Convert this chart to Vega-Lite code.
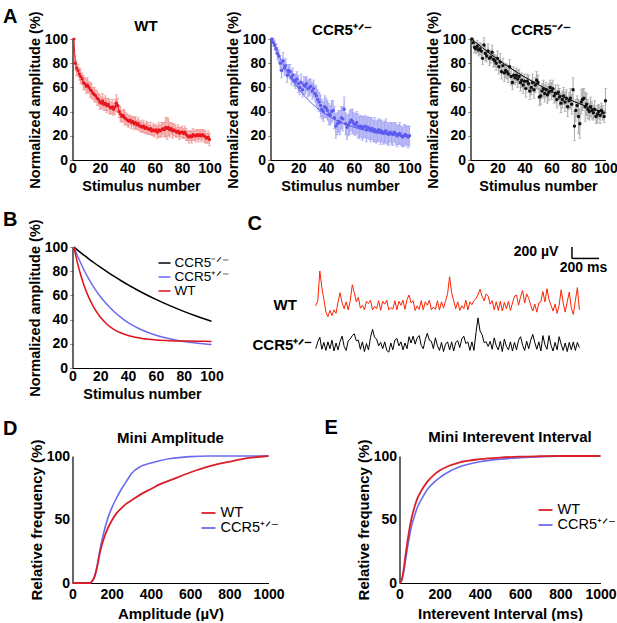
{
"$schema": "https://vega.github.io/schema/vega-lite/v6.json",
"padding": {"left": 2.5, "top": 6, "right": 0, "bottom": 0},
"background": "white",
"bounds": "full",
"spacing": 16,
"resolve": {"scale": {"color": "independent"}, "legend": {"color": "independent"}},
"datasets": {
"wt": [{"x":1,"v":100,"e":0},{"x":2,"v":80,"e":6},{"x":3,"v":76,"e":6},{"x":4,"v":74,"e":5},{"x":5,"v":71,"e":5},{"x":6,"v":69,"e":6},{"x":7,"v":67,"e":5},{"x":8,"v":64,"e":6},{"x":9,"v":63,"e":5},{"x":10,"v":61,"e":6},
{"x":11,"v":62,"e":6},{"x":12,"v":60,"e":5},{"x":13,"v":58,"e":6},{"x":14,"v":57,"e":6},{"x":15,"v":55,"e":5},{"x":16,"v":54,"e":6},{"x":17,"v":53,"e":5},{"x":18,"v":51,"e":6},{"x":19,"v":50,"e":5},{"x":20,"v":48,"e":6},
{"x":21,"v":47,"e":5},{"x":22,"v":49,"e":6},{"x":23,"v":46,"e":5},{"x":24,"v":47,"e":6},{"x":25,"v":45,"e":6},{"x":26,"v":46,"e":5},{"x":27,"v":44,"e":6},{"x":28,"v":43,"e":5},{"x":29,"v":44,"e":6},{"x":30,"v":42,"e":5},
{"x":31,"v":44,"e":6},{"x":32,"v":47,"e":7},{"x":33,"v":45,"e":6},{"x":34,"v":40,"e":5},{"x":35,"v":38,"e":6},{"x":36,"v":36,"e":5},{"x":37,"v":37,"e":5},{"x":38,"v":35,"e":6},{"x":39,"v":34,"e":5},{"x":40,"v":33,"e":5},
{"x":41,"v":32,"e":5},{"x":42,"v":33,"e":4},{"x":43,"v":31,"e":5},{"x":44,"v":32,"e":4},{"x":45,"v":30,"e":5},{"x":46,"v":31,"e":5},{"x":47,"v":29,"e":4},{"x":48,"v":30,"e":5},{"x":49,"v":28,"e":4},{"x":50,"v":28,"e":5},
{"x":51,"v":27,"e":4},{"x":52,"v":28,"e":5},{"x":53,"v":26,"e":4},{"x":54,"v":27,"e":5},{"x":55,"v":26,"e":5},{"x":56,"v":25,"e":4},{"x":57,"v":26,"e":5},{"x":58,"v":24,"e":4},{"x":59,"v":25,"e":5},{"x":60,"v":24,"e":5},
{"x":61,"v":25,"e":4},{"x":62,"v":23,"e":5},{"x":63,"v":25,"e":6},{"x":64,"v":24,"e":5},{"x":65,"v":25,"e":6},{"x":66,"v":26,"e":5},{"x":67,"v":25,"e":6},{"x":68,"v":27,"e":8},{"x":69,"v":26,"e":9},{"x":70,"v":27,"e":7},
{"x":71,"v":25,"e":6},{"x":72,"v":26,"e":5},{"x":73,"v":24,"e":6},{"x":74,"v":25,"e":5},{"x":75,"v":24,"e":5},{"x":76,"v":23,"e":4},{"x":77,"v":24,"e":5},{"x":78,"v":22,"e":5},{"x":79,"v":23,"e":4},{"x":80,"v":23,"e":5},
{"x":81,"v":22,"e":4},{"x":82,"v":23,"e":5},{"x":83,"v":21,"e":5},{"x":84,"v":20,"e":4},{"x":85,"v":19,"e":5},{"x":86,"v":20,"e":4},{"x":87,"v":19,"e":5},{"x":88,"v":21,"e":5},{"x":89,"v":20,"e":4},{"x":90,"v":20,"e":5},
{"x":91,"v":21,"e":4},{"x":92,"v":20,"e":5},{"x":93,"v":21,"e":4},{"x":94,"v":20,"e":5},{"x":95,"v":21,"e":4},{"x":96,"v":20,"e":5},{"x":97,"v":19,"e":5},{"x":98,"v":18,"e":4},{"x":99,"v":19,"e":5},{"x":100,"v":17,"e":5}],
"het": [{"x":1,"v":100,"e":0},{"x":2,"v":97,"e":3},{"x":3,"v":95,"e":4},{"x":4,"v":92,"e":4},{"x":5,"v":88,"e":5},{"x":6,"v":86,"e":5},{"x":7,"v":80,"e":6},{"x":8,"v":74,"e":6},{"x":9,"v":82,"e":7},{"x":10,"v":76,"e":6},
{"x":11,"v":78,"e":6},{"x":12,"v":70,"e":6},{"x":13,"v":74,"e":5},{"x":14,"v":73,"e":6},{"x":15,"v":68,"e":6},{"x":16,"v":70,"e":6},{"x":17,"v":66,"e":5},{"x":18,"v":65,"e":6},{"x":19,"v":67,"e":6},{"x":20,"v":63,"e":7},
{"x":21,"v":60,"e":6},{"x":22,"v":64,"e":7},{"x":23,"v":58,"e":6},{"x":24,"v":62,"e":7},{"x":25,"v":61,"e":7},{"x":26,"v":63,"e":6},{"x":27,"v":59,"e":7},{"x":28,"v":60,"e":7},{"x":29,"v":61,"e":6},{"x":30,"v":57,"e":7},
{"x":31,"v":59,"e":7},{"x":32,"v":55,"e":7},{"x":33,"v":53,"e":8},{"x":34,"v":50,"e":8},{"x":35,"v":48,"e":8},{"x":36,"v":45,"e":9},{"x":37,"v":42,"e":8},{"x":38,"v":40,"e":8},{"x":39,"v":44,"e":9},{"x":40,"v":43,"e":8},
{"x":41,"v":41,"e":8},{"x":42,"v":38,"e":9},{"x":43,"v":37,"e":8},{"x":44,"v":40,"e":9},{"x":45,"v":41,"e":8},{"x":46,"v":35,"e":9},{"x":47,"v":28,"e":10},{"x":48,"v":30,"e":9},{"x":49,"v":32,"e":9},{"x":50,"v":31,"e":10},
{"x":51,"v":35,"e":9},{"x":52,"v":34,"e":10},{"x":53,"v":42,"e":10},{"x":54,"v":30,"e":9},{"x":55,"v":27,"e":10},{"x":56,"v":29,"e":9},{"x":57,"v":31,"e":10},{"x":58,"v":33,"e":9},{"x":59,"v":32,"e":10},{"x":60,"v":30,"e":9},
{"x":61,"v":29,"e":9},{"x":62,"v":31,"e":9},{"x":63,"v":28,"e":10},{"x":64,"v":27,"e":9},{"x":65,"v":28,"e":9},{"x":66,"v":26,"e":10},{"x":67,"v":27,"e":9},{"x":68,"v":28,"e":9},{"x":69,"v":25,"e":10},{"x":70,"v":27,"e":9},
{"x":71,"v":26,"e":9},{"x":72,"v":25,"e":10},{"x":73,"v":26,"e":9},{"x":74,"v":24,"e":9},{"x":75,"v":25,"e":10},{"x":76,"v":23,"e":9},{"x":77,"v":24,"e":9},{"x":78,"v":25,"e":9},{"x":79,"v":23,"e":10},{"x":80,"v":24,"e":9},
{"x":81,"v":22,"e":9},{"x":82,"v":23,"e":9},{"x":83,"v":24,"e":10},{"x":84,"v":22,"e":9},{"x":85,"v":21,"e":9},{"x":86,"v":23,"e":8},{"x":87,"v":22,"e":9},{"x":88,"v":21,"e":9},{"x":89,"v":23,"e":8},{"x":90,"v":22,"e":9},
{"x":91,"v":20,"e":9},{"x":92,"v":21,"e":8},{"x":93,"v":22,"e":9},{"x":94,"v":20,"e":8},{"x":95,"v":19,"e":8},{"x":96,"v":20,"e":9},{"x":97,"v":21,"e":8},{"x":98,"v":20,"e":8},{"x":99,"v":19,"e":9},{"x":100,"v":20,"e":8}],
"ko": [{"x":1,"v":100,"e":0},{"x":2,"v":97,"e":3},{"x":3,"v":93,"e":4},{"x":4,"v":92,"e":4},{"x":5,"v":94,"e":5},{"x":6,"v":91,"e":5},{"x":7,"v":92,"e":5},{"x":8,"v":90,"e":6},{"x":9,"v":84,"e":5},{"x":10,"v":95,"e":6},
{"x":11,"v":88,"e":6},{"x":12,"v":86,"e":5},{"x":13,"v":90,"e":6},{"x":14,"v":84,"e":6},{"x":15,"v":85,"e":5},{"x":16,"v":89,"e":6},{"x":17,"v":83,"e":6},{"x":18,"v":82,"e":5},{"x":19,"v":80,"e":6},{"x":20,"v":84,"e":6},
{"x":21,"v":77,"e":6},{"x":22,"v":81,"e":7},{"x":23,"v":73,"e":6},{"x":24,"v":78,"e":6},{"x":25,"v":72,"e":7},{"x":26,"v":74,"e":6},{"x":27,"v":73,"e":6},{"x":28,"v":71,"e":7},{"x":29,"v":77,"e":6},{"x":30,"v":69,"e":7},
{"x":31,"v":64,"e":6},{"x":32,"v":70,"e":7},{"x":33,"v":68,"e":6},{"x":34,"v":70,"e":6},{"x":35,"v":67,"e":7},{"x":36,"v":69,"e":6},{"x":37,"v":64,"e":7},{"x":38,"v":66,"e":6},{"x":39,"v":62,"e":7},{"x":40,"v":65,"e":6},
{"x":41,"v":59,"e":7},{"x":42,"v":65,"e":6},{"x":43,"v":63,"e":7},{"x":44,"v":57,"e":7},{"x":45,"v":60,"e":6},{"x":46,"v":64,"e":7},{"x":47,"v":58,"e":7},{"x":48,"v":62,"e":6},{"x":49,"v":66,"e":7},{"x":50,"v":64,"e":6},
{"x":51,"v":52,"e":7},{"x":52,"v":53,"e":7},{"x":53,"v":57,"e":6},{"x":54,"v":59,"e":7},{"x":55,"v":55,"e":7},{"x":56,"v":58,"e":6},{"x":57,"v":54,"e":7},{"x":58,"v":56,"e":7},{"x":59,"v":60,"e":6},{"x":60,"v":57,"e":7},
{"x":61,"v":59,"e":7},{"x":62,"v":53,"e":6},{"x":63,"v":55,"e":7},{"x":64,"v":50,"e":7},{"x":65,"v":56,"e":6},{"x":66,"v":52,"e":7},{"x":67,"v":47,"e":8},{"x":68,"v":50,"e":7},{"x":69,"v":53,"e":7},{"x":70,"v":48,"e":8},
{"x":71,"v":51,"e":7},{"x":72,"v":44,"e":8},{"x":73,"v":49,"e":7},{"x":74,"v":51,"e":8},{"x":75,"v":46,"e":8},{"x":76,"v":58,"e":10},{"x":77,"v":28,"e":12},{"x":78,"v":41,"e":9},{"x":79,"v":45,"e":8},{"x":80,"v":36,"e":14},
{"x":81,"v":30,"e":12},{"x":82,"v":48,"e":10},{"x":83,"v":50,"e":9},{"x":84,"v":51,"e":8},{"x":85,"v":44,"e":12},{"x":86,"v":46,"e":9},{"x":87,"v":42,"e":8},{"x":88,"v":40,"e":7},{"x":89,"v":44,"e":8},{"x":90,"v":41,"e":7},
{"x":91,"v":39,"e":6},{"x":92,"v":42,"e":7},{"x":93,"v":36,"e":6},{"x":94,"v":38,"e":7},{"x":95,"v":40,"e":6},{"x":96,"v":37,"e":7},{"x":97,"v":41,"e":6},{"x":98,"v":39,"e":6},{"x":99,"v":36,"e":5},{"x":100,"v":49,"e":10}],
"fitWT": [{"x":1,"v":100},{"x":3,"v":89.6},{"x":5,"v":80.6},{"x":8,"v":69.3},{"x":11,"v":60.2},{"x":15,"v":50.7},{"x":20,"v":42.1},{"x":25,"v":36},{"x":30,"v":31.8},{"x":35,"v":28.9},{"x":40,"v":26.8},{"x":45,"v":25.4},{"x":50,"v":24.4},{"x":60,"v":23.2},{"x":70,"v":22.6},{"x":80,"v":22.3},{"x":90,"v":22.1},{"x":100,"v":22}],
"fitHET": [{"x":1,"v":100},{"x":3,"v":94.3},{"x":5,"v":89},{"x":8,"v":81.6},{"x":11,"v":75.1},{"x":15,"v":67.3},{"x":20,"v":59.1},{"x":25,"v":52.2},{"x":30,"v":46.5},{"x":35,"v":41.7},{"x":40,"v":37.6},{"x":45,"v":34.2},{"x":50,"v":31.4},{"x":60,"v":27.1},{"x":70,"v":24.1},{"x":80,"v":21.9},{"x":90,"v":20.5},{"x":100,"v":19.4}],
"fitKO": [{"x":1,"v":100},{"x":3,"v":98.1},{"x":5,"v":96.2},{"x":8,"v":93.5},{"x":11,"v":90.8},{"x":15,"v":87.4},{"x":20,"v":83.3},{"x":25,"v":79.4},{"x":30,"v":75.7},{"x":35,"v":72.1},{"x":40,"v":68.7},{"x":45,"v":65.5},{"x":50,"v":62.4},{"x":60,"v":56.7},{"x":70,"v":51.5},{"x":80,"v":46.8},{"x":90,"v":42.5},{"x":100,"v":38.6}],
"trWT": [{"t":0,"v":690},{"t":15,"v":780},{"t":30,"v":1300},{"t":45,"v":1010},{"t":60,"v":800},{"t":75,"v":580},{"t":90,"v":500},{"t":105,"v":610},{"t":120,"v":520},{"t":135,"v":620},{"t":150,"v":560},{"t":165,"v":760},{"t":180,"v":920},{"t":195,"v":740},{"t":210,"v":640},{"t":225,"v":760},{"t":240,"v":620},{"t":255,"v":780},{"t":270,"v":1060},{"t":285,"v":920},{"t":300,"v":760},{"t":315,"v":840},{"t":330,"v":650},{"t":345,"v":700},{"t":360,"v":620},{"t":375,"v":770},{"t":390,"v":730},{"t":405,"v":790},{"t":420,"v":620},{"t":435,"v":680},{"t":450,"v":640},{"t":465,"v":780},{"t":480,"v":610},{"t":495,"v":770},{"t":510,"v":720},{"t":525,"v":790},{"t":540,"v":620},{"t":555,"v":660},{"t":570,"v":630},{"t":585,"v":780},{"t":600,"v":620},{"t":615,"v":770},{"t":630,"v":700},{"t":645,"v":790},{"t":660,"v":630},{"t":675,"v":800},{"t":690,"v":880},{"t":705,"v":740},{"t":720,"v":780},{"t":735,"v":610},{"t":750,"v":690},{"t":765,"v":630},{"t":780,"v":780},{"t":795,"v":620},{"t":810,"v":760},{"t":825,"v":700},{"t":840,"v":790},{"t":855,"v":620},{"t":870,"v":670},{"t":885,"v":630},{"t":900,"v":780},{"t":915,"v":620},{"t":930,"v":760},{"t":945,"v":650},{"t":960,"v":780},{"t":975,"v":900},{"t":990,"v":1200},{"t":1005,"v":920},{"t":1020,"v":780},{"t":1035,"v":640},{"t":1050,"v":760},{"t":1065,"v":610},{"t":1080,"v":690},{"t":1095,"v":640},{"t":1110,"v":790},{"t":1125,"v":620},{"t":1140,"v":760},{"t":1155,"v":710},{"t":1170,"v":780},{"t":1185,"v":820},{"t":1200,"v":880},{"t":1215,"v":980},{"t":1230,"v":860},{"t":1245,"v":780},{"t":1260,"v":900},{"t":1275,"v":860},{"t":1290,"v":720},{"t":1305,"v":780},{"t":1320,"v":620},{"t":1335,"v":760},{"t":1350,"v":610},{"t":1365,"v":770},{"t":1380,"v":600},{"t":1395,"v":750},{"t":1410,"v":640},{"t":1425,"v":770},{"t":1440,"v":610},{"t":1455,"v":740},{"t":1470,"v":860},{"t":1485,"v":880},{"t":1500,"v":700},{"t":1515,"v":850},{"t":1530,"v":960},{"t":1545,"v":740},{"t":1560,"v":900},{"t":1575,"v":820},{"t":1590,"v":700},{"t":1605,"v":600},{"t":1620,"v":720},{"t":1635,"v":580},{"t":1650,"v":740},{"t":1665,"v":760},{"t":1680,"v":940},{"t":1695,"v":760},{"t":1710,"v":990},{"t":1725,"v":800},{"t":1740,"v":700},{"t":1755,"v":600},{"t":1770,"v":720},{"t":1785,"v":560},{"t":1800,"v":700},{"t":1815,"v":970},{"t":1830,"v":740},{"t":1845,"v":580},{"t":1860,"v":760},{"t":1875,"v":930},{"t":1890,"v":660},{"t":1905,"v":540},{"t":1920,"v":780},{"t":1935,"v":1010},{"t":1950,"v":620}],
"trHET": [{"t":0,"v":-60},{"t":15,"v":60},{"t":30,"v":140},{"t":45,"v":-70},{"t":60,"v":50},{"t":75,"v":-90},{"t":90,"v":60},{"t":105,"v":-60},{"t":120,"v":90},{"t":135,"v":-100},{"t":150,"v":40},{"t":165,"v":-80},{"t":180,"v":70},{"t":195,"v":160},{"t":210,"v":-20},{"t":225,"v":-90},{"t":240,"v":80},{"t":255,"v":110},{"t":270,"v":170},{"t":285,"v":200},{"t":300,"v":80},{"t":315,"v":90},{"t":330,"v":-70},{"t":345,"v":60},{"t":360,"v":-110},{"t":375,"v":30},{"t":390,"v":-80},{"t":405,"v":140},{"t":420,"v":280},{"t":435,"v":140},{"t":450,"v":110},{"t":465,"v":-10},{"t":480,"v":50},{"t":495,"v":-60},{"t":510,"v":60},{"t":525,"v":-90},{"t":540,"v":-120},{"t":555,"v":40},{"t":570,"v":-80},{"t":585,"v":90},{"t":600,"v":120},{"t":615,"v":-10},{"t":630,"v":60},{"t":645,"v":-80},{"t":660,"v":40},{"t":675,"v":-60},{"t":690,"v":150},{"t":705,"v":40},{"t":720,"v":160},{"t":735,"v":20},{"t":750,"v":130},{"t":765,"v":170},{"t":780,"v":0},{"t":795,"v":-60},{"t":810,"v":100},{"t":825,"v":210},{"t":840,"v":90},{"t":855,"v":70},{"t":870,"v":-60},{"t":885,"v":130},{"t":900,"v":-10},{"t":915,"v":-90},{"t":930,"v":50},{"t":945,"v":-110},{"t":960,"v":20},{"t":975,"v":60},{"t":990,"v":-80},{"t":1005,"v":60},{"t":1020,"v":-100},{"t":1035,"v":50},{"t":1050,"v":80},{"t":1065,"v":-40},{"t":1080,"v":110},{"t":1095,"v":160},{"t":1110,"v":30},{"t":1125,"v":60},{"t":1140,"v":-90},{"t":1155,"v":60},{"t":1170,"v":-90},{"t":1185,"v":220},{"t":1200,"v":480},{"t":1215,"v":250},{"t":1230,"v":190},{"t":1245,"v":50},{"t":1260,"v":60},{"t":1275,"v":-20},{"t":1290,"v":70},{"t":1305,"v":-70},{"t":1320,"v":130},{"t":1335,"v":-10},{"t":1350,"v":-80},{"t":1365,"v":70},{"t":1380,"v":-110},{"t":1395,"v":110},{"t":1410,"v":-20},{"t":1425,"v":-80},{"t":1440,"v":60},{"t":1455,"v":-100},{"t":1470,"v":50},{"t":1485,"v":-80},{"t":1500,"v":90},{"t":1515,"v":150},{"t":1530,"v":0},{"t":1545,"v":-90},{"t":1560,"v":70},{"t":1575,"v":-60},{"t":1590,"v":90},{"t":1605,"v":190},{"t":1620,"v":50},{"t":1635,"v":-70},{"t":1650,"v":60},{"t":1665,"v":-100},{"t":1680,"v":170},{"t":1695,"v":10},{"t":1710,"v":-70},{"t":1725,"v":170},{"t":1740,"v":0},{"t":1755,"v":-100},{"t":1770,"v":50},{"t":1785,"v":-80},{"t":1800,"v":150},{"t":1815,"v":20},{"t":1830,"v":-90},{"t":1845,"v":40},{"t":1860,"v":-110},{"t":1875,"v":50},{"t":1890,"v":-80},{"t":1905,"v":60},{"t":1920,"v":-90},{"t":1935,"v":50},{"t":1950,"v":-40}],
"dWT": [{"a":0,"p":0},{"a":50,"p":0},{"a":90,"p":0},{"a":100,"p":1.5},{"a":110,"p":4},{"a":125,"p":12},{"a":140,"p":24},{"a":160,"p":35},{"a":180,"p":43},{"a":200,"p":49},{"a":225,"p":55},{"a":250,"p":59},{"a":275,"p":62.5},{"a":300,"p":65},{"a":350,"p":70},{"a":400,"p":74},{"a":450,"p":78},{"a":500,"p":81},{"a":600,"p":87},{"a":700,"p":92},{"a":800,"p":95.5},{"a":900,"p":98.5},{"a":1000,"p":100}],
"dHET": [{"a":0,"p":0},{"a":50,"p":0},{"a":90,"p":0},{"a":100,"p":1.5},{"a":110,"p":4},{"a":125,"p":13},{"a":140,"p":26},{"a":160,"p":40},{"a":180,"p":51},{"a":200,"p":59},{"a":225,"p":67},{"a":250,"p":74},{"a":275,"p":80},{"a":300,"p":86},{"a":350,"p":92},{"a":400,"p":94.5},{"a":450,"p":96.5},{"a":500,"p":98},{"a":600,"p":99.5},{"a":700,"p":100},{"a":800,"p":100},{"a":900,"p":100},{"a":1000,"p":100}],
"eWT": [{"t":0,"p":0},{"t":10,"p":2},{"t":20,"p":10},{"t":30,"p":22},{"t":40,"p":33},{"t":50,"p":43},{"t":60,"p":51},{"t":75,"p":60},{"t":90,"p":67},{"t":110,"p":73},{"t":140,"p":80},{"t":170,"p":85},{"t":200,"p":88.5},{"t":250,"p":92.5},{"t":300,"p":95},{"t":400,"p":97.5},{"t":500,"p":98.8},{"t":600,"p":99.5},{"t":700,"p":99.8},{"t":800,"p":100},{"t":1000,"p":100}],
"eHET": [{"t":0,"p":0},{"t":10,"p":1.5},{"t":20,"p":8},{"t":30,"p":18},{"t":40,"p":28},{"t":50,"p":37},{"t":60,"p":45},{"t":75,"p":53},{"t":90,"p":60},{"t":110,"p":66},{"t":140,"p":74},{"t":170,"p":79},{"t":200,"p":83},{"t":250,"p":88},{"t":300,"p":91.5},{"t":400,"p":95.5},{"t":500,"p":97.5},{"t":600,"p":98.7},{"t":700,"p":99.5},{"t":800,"p":99.9},{"t":1000,"p":100}]
},
"vconcat": [
{
"bounds": "flush",
"spacing": 61,
"resolve": {"scale": {"color": "independent"}, "legend": {"color": "independent"}},
"hconcat": [
{
 "width": 137, "height": 121,
 "title": {"text": "WT", "offset": -27, "dx": 5},
 "layer": [
  {
   "encoding": {
    "x": {"field": "x", "type": "quantitative", "scale": {"domain": [0, 100], "nice": false, "zero": false}, "axis": {"values": [0,20,40,60,80,100], "title": "Stimulus number", "titlePadding": 4, "labelOverlap": false}},
    "y": {"field": "v", "type": "quantitative", "scale": {"domain": [0, 100], "nice": false}, "axis": {"values": [0,20,40,60,80,100], "title": "Normalized amplitude (%)", "labelOverlap": false}}
   },
   "layer": [
    {"data": {"name": "wt"}, "mark": {"type": "errorband", "color": "#F9C4C4", "opacity": 0.6}, "encoding": {"yError": {"field": "e"}}},
    {"data": {"name": "wt"}, "mark": {"type": "errorbar", "color": "#F08A8A", "ticks": {"size": 3}, "thickness": 0.8}, "encoding": {"yError": {"field": "e"}}},
    {"data": {"name": "wt"}, "mark": {"type": "line", "color": "#E8141C", "strokeWidth": 1}},
    {"data": {"name": "wt"}, "mark": {"type": "point", "filled": true, "color": "#E8141C", "size": 10, "opacity": 1}}
   ]
  },
  {"data": {"values": [{}]}, "mark": {"type": "text", "text": "A", "fontSize": 20, "align": "left", "baseline": "middle"},
   "encoding": {"x": {"datum": -50.7, "axis": {"values": [0,20,40,60,80,100], "title": "Stimulus number", "titlePadding": 4, "labelOverlap": false}},
                "y": {"datum": 118.2, "axis": {"values": [0,20,40,60,80,100], "title": "Normalized amplitude (%)", "labelOverlap": false}}}}
 ]
},
{
 "width": 139, "height": 121,
 "title": {"text": "CCR5⁺ᐟ⁻", "offset": -27, "dx": 2},
 "encoding": {
  "x": {"field": "x", "type": "quantitative", "scale": {"domain": [0, 100], "nice": false, "zero": false}, "axis": {"values": [0,20,40,60,80,100], "title": "Stimulus number", "titlePadding": 4, "labelOverlap": false}},
  "y": {"field": "v", "type": "quantitative", "scale": {"domain": [0, 100], "nice": false}, "axis": {"values": [0,20,40,60,80,100], "title": "Normalized amplitude (%)", "labelOverlap": false}}
 },
 "layer": [
  {"data": {"name": "het"}, "mark": {"type": "errorband", "color": "#C8C8F7", "opacity": 0.75}, "encoding": {"yError": {"field": "e"}}},
  {"data": {"name": "het"}, "mark": {"type": "errorbar", "color": "#9C9CF3", "ticks": {"size": 3}, "thickness": 0.8}, "encoding": {"yError": {"field": "e"}}},
  {"data": {"name": "fitHET"}, "mark": {"type": "line", "color": "#5858EE", "strokeWidth": 1, "interpolate": "monotone"}},
  {"data": {"name": "het"}, "mark": {"type": "point", "filled": true, "color": "#5C5CF0", "size": 12, "opacity": 1}}
 ]
},
{
 "width": 135, "height": 121,
 "title": {"text": "CCR5⁻ᐟ⁻", "offset": -27, "dx": 3},
 "encoding": {
  "x": {"field": "x", "type": "quantitative", "scale": {"domain": [0, 100], "nice": false, "zero": false}, "axis": {"values": [0,20,40,60,80,100], "title": "Stimulus number", "titlePadding": 4, "labelOverlap": false}},
  "y": {"field": "v", "type": "quantitative", "scale": {"domain": [0, 100], "nice": false}, "axis": {"values": [0,20,40,60,80,100], "title": "Normalized amplitude (%)", "labelOverlap": false}}
 },
 "layer": [
  {"data": {"name": "ko"}, "mark": {"type": "errorband", "color": "#DDDDDD", "opacity": 0.7}, "encoding": {"yError": {"field": "e"}}},
  {"data": {"name": "ko"}, "mark": {"type": "errorbar", "color": "#9A9A9A", "ticks": {"size": 3}, "thickness": 0.8}, "encoding": {"yError": {"field": "e"}}},
  {"data": {"name": "fitKO"}, "mark": {"type": "line", "color": "#000000", "strokeWidth": 1, "interpolate": "monotone"}},
  {"data": {"name": "ko"}, "mark": {"type": "point", "filled": true, "color": "#111111", "size": 12, "opacity": 1}}
 ]
}
]
},
{
"bounds": "flush",
"spacing": 61,
"resolve": {"scale": {"color": "independent"}, "legend": {"color": "independent"}},
"hconcat": [
{
 "width": 139, "height": 121,
 "layer": [
  {
   "encoding": {
    "x": {"field": "x", "type": "quantitative", "scale": {"domain": [0, 100], "nice": false, "zero": false}, "axis": {"values": [0,20,40,60,80,100], "title": "Stimulus number", "titlePadding": 4, "labelOverlap": false}},
    "y": {"field": "v", "type": "quantitative", "scale": {"domain": [0, 100], "nice": false}, "axis": {"values": [0,20,40,60,80,100], "title": "Normalized amplitude (%)", "labelOverlap": false}}
   },
   "layer": [
    {"data": {"name": "fitKO"}, "mark": {"type": "line", "strokeWidth": 1.5, "interpolate": "monotone"},
     "encoding": {"color": {"datum": "CCR5⁻ᐟ⁻", "scale": {"domain": ["CCR5⁻ᐟ⁻", "CCR5⁺ᐟ⁻", "WT"], "range": ["#000000", "#6B6BF0", "#E0121A"]},
      "legend": {"orient": "none", "legendX": 85, "legendY": 9, "title": null, "symbolType": "stroke", "symbolSize": 144, "symbolStrokeWidth": 1.5, "labelFontSize": 13.5, "labelFont": "Liberation Sans", "labelFontWeight": "normal", "labelColor": "#000", "rowPadding": 0, "padding": 0, "labelOffset": 3}}}},
    {"data": {"name": "fitHET"}, "mark": {"type": "line", "strokeWidth": 1.5, "interpolate": "monotone"}, "encoding": {"color": {"datum": "CCR5⁺ᐟ⁻"}}},
    {"data": {"name": "fitWT"}, "mark": {"type": "line", "strokeWidth": 1.5, "interpolate": "monotone"}, "encoding": {"color": {"datum": "WT"}}}
   ]
  },
  {"data": {"values": [{}]}, "mark": {"type": "text", "text": "B", "fontSize": 20, "align": "left", "baseline": "middle"},
   "encoding": {"x": {"datum": -50, "axis": {"values": [0,20,40,60,80,100], "title": "Stimulus number", "titlePadding": 4, "labelOverlap": false}},
                "y": {"datum": 122.7, "axis": {"values": [0,20,40,60,80,100], "title": "Normalized amplitude (%)", "labelOverlap": false}}}}
 ]
},
{
 "width": 280, "height": 120,
 "layer": [
  {"data": {"name": "trWT"}, "mark": {"type": "line", "color": "#FF2200", "strokeWidth": 1},
   "encoding": {"x": {"field": "t", "type": "quantitative", "scale": {"domain": [-320, 1751], "nice": false, "zero": false}, "axis": null},
                "y": {"field": "v", "type": "quantitative", "scale": {"domain": [-380, 1720], "nice": false, "zero": false}, "axis": null}}},
  {"data": {"name": "trHET"}, "mark": {"type": "line", "color": "#000000", "strokeWidth": 1},
   "encoding": {"x": {"field": "t", "type": "quantitative"}, "y": {"field": "v", "type": "quantitative"}}},
  {"data": {"values": [{}]}, "mark": {"type": "rule", "color": "#000", "strokeWidth": 1.5}, "encoding": {"x": {"datum": 1895}, "y": {"datum": 1520}, "y2": {"datum": 1720}}},
  {"data": {"values": [{}]}, "mark": {"type": "rule", "color": "#000", "strokeWidth": 1.5}, "encoding": {"x": {"datum": 1895}, "x2": {"datum": 2095}, "y": {"datum": 1520}}},
  {"data": {"values": [{}]}, "mark": {"type": "text", "text": "200 µV", "fontSize": 14, "align": "right", "baseline": "middle"}, "encoding": {"x": {"datum": 1795}, "y": {"datum": 1638}}},
  {"data": {"values": [{}]}, "mark": {"type": "text", "text": "200 ms", "fontSize": 14, "align": "center", "baseline": "middle"}, "encoding": {"x": {"datum": 1980}, "y": {"datum": 1358}}},
  {"data": {"values": [{}]}, "mark": {"type": "text", "text": "WT", "fontSize": 15, "align": "left", "baseline": "middle"}, "encoding": {"x": {"datum": -312}, "y": {"datum": 700}}},
  {"data": {"values": [{}]}, "mark": {"type": "text", "text": "CCR5⁺ᐟ⁻", "fontSize": 15, "align": "left", "baseline": "middle"}, "encoding": {"x": {"datum": -468}, "y": {"datum": 0}}},
  {"data": {"values": [{}]}, "mark": {"type": "text", "text": "C", "fontSize": 20, "align": "left", "baseline": "middle"}, "encoding": {"x": {"datum": -505}, "y": {"datum": 2114}}}
 ]
}
]
},
{
"bounds": "flush",
"spacing": 131,
"resolve": {"scale": {"color": "independent"}, "legend": {"color": "independent"}},
"hconcat": [
{
 "width": 196, "height": 127,
 "title": {"text": "Mini Amplitude", "offset": -27},
 "layer": [
  {
   "encoding": {
    "x": {"field": "a", "type": "quantitative", "scale": {"domain": [0, 1000], "nice": false, "zero": false}, "axis": {"values": [0,200,400,600,800,1000], "format": "d", "title": "Amplitude (µV)", "labelPadding": 4, "titlePadding": 5, "titleFontSize": 15, "labelOverlap": false}},
    "y": {"field": "p", "type": "quantitative", "scale": {"domain": [0, 100], "nice": false}, "axis": {"values": [0,50,100], "title": "Relative frequency (%)", "ticks": false, "labelPadding": 3, "titleFontSize": 15, "labelOverlap": false}}
   },
   "layer": [
    {"data": {"name": "dHET"}, "mark": {"type": "line", "strokeWidth": 1.6, "interpolate": "monotone"},
     "encoding": {"color": {"datum": "CCR5⁺ᐟ⁻", "scale": {"domain": ["WT", "CCR5⁺ᐟ⁻"], "range": ["#D9202A", "#6B6BEF"]},
      "legend": {"orient": "none", "legendX": 128, "legendY": 49, "title": null, "symbolType": "stroke", "symbolSize": 196, "symbolStrokeWidth": 1.8, "labelFontSize": 14.5, "labelFont": "Liberation Sans", "labelFontWeight": "normal", "labelColor": "#000", "rowPadding": 0, "padding": 0, "labelOffset": 4}}}},
    {"data": {"name": "dWT"}, "mark": {"type": "line", "strokeWidth": 1.8, "interpolate": "monotone"}, "encoding": {"color": {"datum": "WT"}}}
   ]
  },
  {"data": {"values": [{}]}, "mark": {"type": "text", "text": "D", "fontSize": 20, "align": "left", "baseline": "middle"},
   "encoding": {"x": {"datum": -354.6, "axis": {"values": [0,200,400,600,800,1000], "format": "d", "title": "Amplitude (µV)", "labelPadding": 4, "titlePadding": 5, "titleFontSize": 15, "labelOverlap": false}},
                "y": {"datum": 121.6, "axis": {"values": [0,50,100], "title": "Relative frequency (%)", "ticks": false, "labelPadding": 3, "titleFontSize": 15, "labelOverlap": false}}}}
 ]
},
{
 "width": 201, "height": 127,
 "title": {"text": "Mini Interevent Interval", "offset": -27, "dx": 10},
 "layer": [
  {
   "encoding": {
    "x": {"field": "t", "type": "quantitative", "scale": {"domain": [0, 1000], "nice": false, "zero": false}, "axis": {"values": [0,200,400,600,800,1000], "format": "d", "title": "Interevent Interval (ms)", "labelPadding": 4, "titlePadding": 5, "titleFontSize": 15, "labelOverlap": false}},
    "y": {"field": "p", "type": "quantitative", "scale": {"domain": [0, 100], "nice": false}, "axis": {"values": [0,50,100], "title": "Relative frequency (%)", "ticks": false, "labelPadding": 3, "titleFontSize": 15, "labelOverlap": false}}
   },
   "layer": [
    {"data": {"name": "eHET"}, "mark": {"type": "line", "strokeWidth": 1.6, "interpolate": "monotone"},
     "encoding": {"color": {"datum": "CCR5⁺ᐟ⁻", "scale": {"domain": ["WT", "CCR5⁺ᐟ⁻"], "range": ["#D9202A", "#6B6BEF"]},
      "legend": {"orient": "none", "legendX": 138, "legendY": 46, "title": null, "symbolType": "stroke", "symbolSize": 196, "symbolStrokeWidth": 1.8, "labelFontSize": 14.5, "labelFont": "Liberation Sans", "labelFontWeight": "normal", "labelColor": "#000", "rowPadding": 0, "padding": 0, "labelOffset": 4}}}},
    {"data": {"name": "eWT"}, "mark": {"type": "line", "strokeWidth": 1.8, "interpolate": "monotone"}, "encoding": {"color": {"datum": "WT"}}}
   ]
  },
  {"data": {"values": [{}]}, "mark": {"type": "text", "text": "E", "fontSize": 20, "align": "left", "baseline": "middle"},
   "encoding": {"x": {"datum": -373, "axis": {"values": [0,200,400,600,800,1000], "format": "d", "title": "Interevent Interval (ms)", "labelPadding": 4, "titlePadding": 5, "titleFontSize": 15, "labelOverlap": false}},
                "y": {"datum": 122.4, "axis": {"values": [0,50,100], "title": "Relative frequency (%)", "ticks": false, "labelPadding": 3, "titleFontSize": 15, "labelOverlap": false}}}}
 ]
}
]
}
],
"config": {
 "view": {"stroke": null},
 "font": "Liberation Sans",
 "numberFormat": "d",
 "axis": {"grid": false, "domainColor": "#000", "domainWidth": 1.2, "labelFont": "Liberation Sans", "labelFontSize": 14, "labelFontWeight": "bold", "labelColor": "#000", "labelFlush": false, "labelOverlap": false, "titleFont": "Liberation Sans", "titleFontSize": 14.5, "titleFontWeight": "bold", "titleColor": "#000", "tickColor": "#999", "tickSize": 3, "tickWidth": 1, "labelPadding": 2, "titlePadding": 2},
 "axisX": {"ticks": false, "labelPadding": 1},
 "title": {"font": "Liberation Sans", "fontSize": 15, "fontWeight": "bold", "color": "#000", "anchor": "middle", "frame": "group"},
 "text": {"font": "Liberation Sans", "fontWeight": "bold", "color": "#000"}
}
}
